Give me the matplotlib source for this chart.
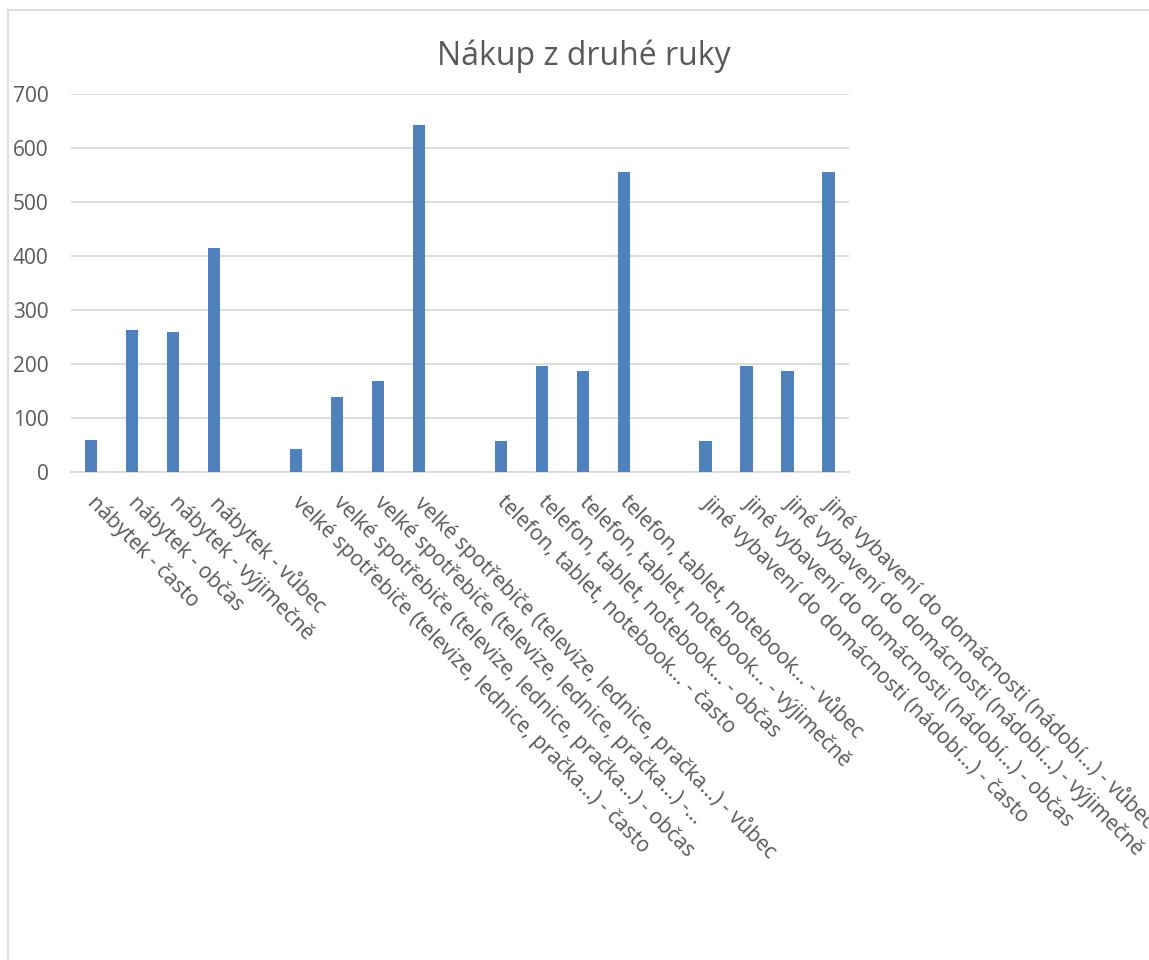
import numpy as np
import matplotlib
matplotlib.use("Agg")
import matplotlib.pyplot as plt
import matplotlib.transforms as mtransforms
from matplotlib.patches import Rectangle

plt.rcParams['font.family'] = ['Open Sans', 'DejaVu Sans']

title = "Nákup z druhé ruky"

categories = [
    "nábytek - často",
    "nábytek - občas",
    "nábytek - výjimečně",
    "nábytek - vůbec",
    "",
    "velké spotřebiče (televize, lednice, pračka…) - často",
    "velké spotřebiče (televize, lednice, pračka…) - občas",
    "velké spotřebiče (televize, lednice, pračka…) -…",
    "velké spotřebiče (televize, lednice, pračka…) - vůbec",
    "",
    "telefon, tablet, notebook… - často",
    "telefon, tablet, notebook… - občas",
    "telefon, tablet, notebook… - výjimečně",
    "telefon, tablet, notebook… - vůbec",
    "",
    "jiné vybavení do domácnosti (nádobí…) - často",
    "jiné vybavení do domácnosti (nádobí…) - občas",
    "jiné vybavení do domácnosti (nádobí…) - výjimečně",
    "jiné vybavení do domácnosti (nádobí…) - vůbec",
]
values = [60, 264, 259, 415, np.nan,
          44, 139, 170, 644, np.nan,
          58, 196, 188, 556, np.nan,
          58, 196, 188, 556]
y_ticks = [0, 100, 200, 300, 400, 500, 600, 700]

W, H = 1149, 960
fig = plt.figure(figsize=(W / 100, H / 100), dpi=100)

# chart frame
fig.patches.append(Rectangle((8 / W, -0.1), 1.2, 1 - 10 / H + 0.1,
                             transform=fig.transFigure, fill=False,
                             edgecolor='#D9D9D9', linewidth=1.2, zorder=0))

left, right = 70.7 / W, 849 / W
bottom, top = 1 - 472.3 / H, 1 - 94.3 / H
ax = fig.add_axes([left, bottom, right - left, top - bottom])

x = np.arange(len(categories))
ax.bar(x, np.nan_to_num(values), width=0.3, color='#4F81BD', zorder=3)

ax.set_xlim(-0.5, len(categories) - 0.5)
ax.set_ylim(0, 700)
ax.set_yticks(y_ticks)
ax.set_yticklabels([str(v) for v in y_ticks])
ax.yaxis.grid(True, color='#D9D9D9', linewidth=1.3, zorder=0)
ax.set_axisbelow(True)
for s in ['top', 'right', 'left']:
    ax.spines[s].set_visible(False)
ax.spines['bottom'].set_color('#D9D9D9')
ax.spines['bottom'].set_linewidth(1.3)

ax.tick_params(axis='y', length=0, pad=16, labelsize=15, labelcolor='#595959')
ax.tick_params(axis='x', length=0, pad=14, labelsize=15.2, labelcolor='#595959')
ax.set_xticks(x)
ax.set_xticklabels(categories, rotation=-45, ha='left', va='top',
                   rotation_mode='anchor')
offset = mtransforms.ScaledTranslation(7 / 100, 0, fig.dpi_scale_trans)
for lbl in ax.get_xticklabels():
    lbl.set_transform(lbl.get_transform() + offset)

fig.text(584 / W, 1 - 56 / H, title, ha='center', va='center',
         fontsize=23, color='#595959')

fig.savefig('out.png', dpi=100, facecolor='white')
